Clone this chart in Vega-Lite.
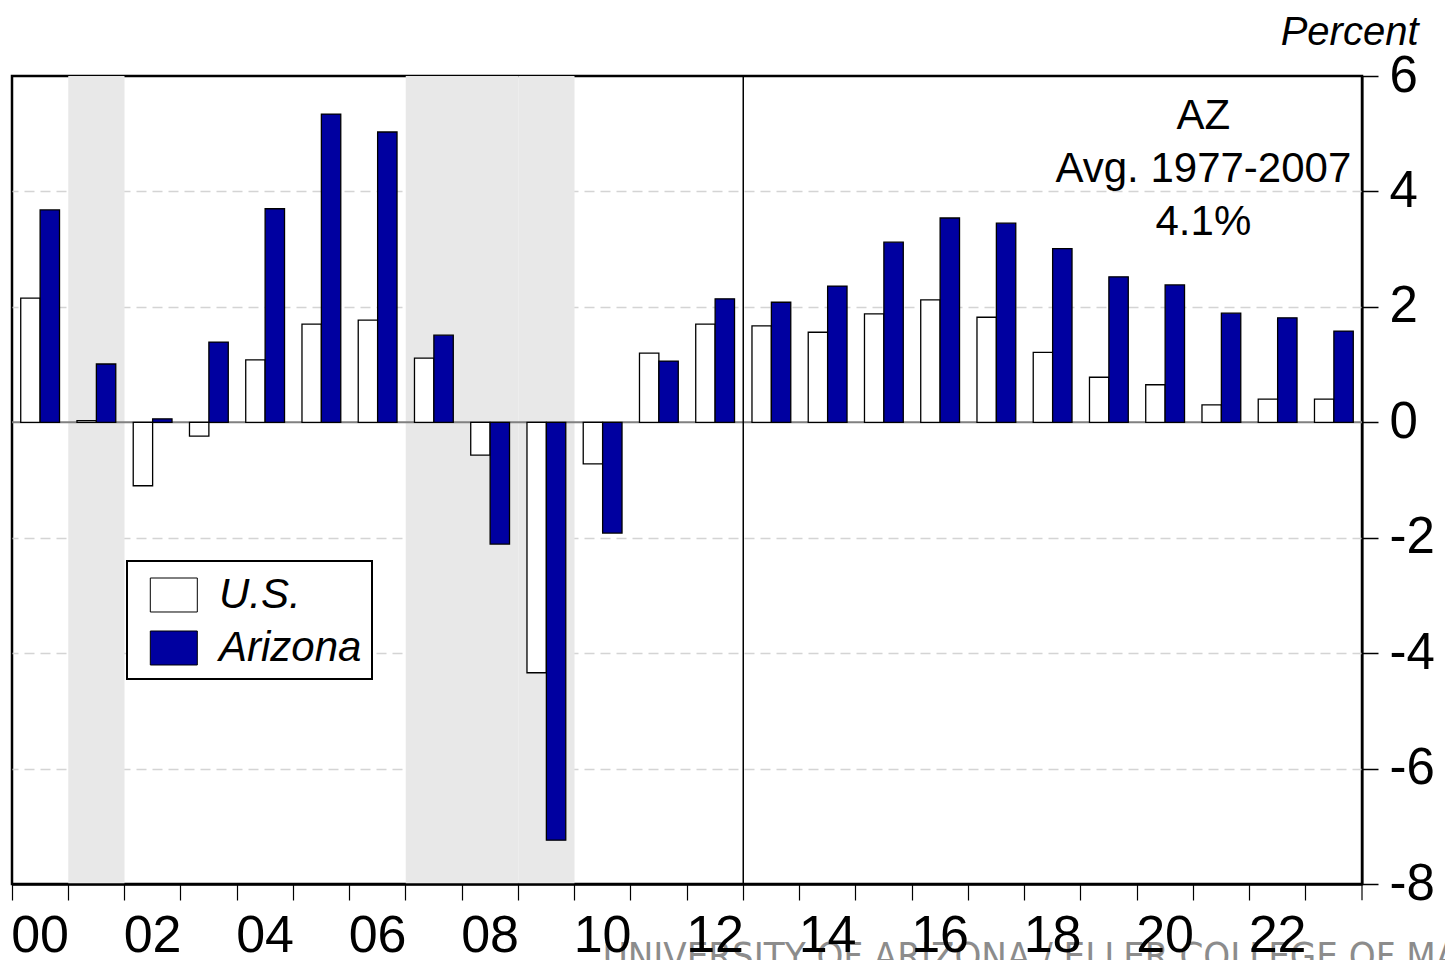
{
  "$schema": "https://vega.github.io/schema/vega-lite/v6.json",
  "width": 1350,
  "height": 808,
  "autosize": {"type": "none"},
  "padding": {"left": 12, "top": 76, "right": 83, "bottom": 76},
  "background": "white",
  "config": {
    "font": "Liberation Sans",
    "view": {"stroke": "black", "strokeWidth": 2.5}
  },
  "datasets": {
    "bars": [
      {"year": "2000", "series": "U.S.", "value": 2.15}, {"year": "2000", "series": "Arizona", "value": 3.68},
      {"year": "2001", "series": "U.S.", "value": 0.03}, {"year": "2001", "series": "Arizona", "value": 1.01},
      {"year": "2002", "series": "U.S.", "value": -1.10}, {"year": "2002", "series": "Arizona", "value": 0.06},
      {"year": "2003", "series": "U.S.", "value": -0.24}, {"year": "2003", "series": "Arizona", "value": 1.39},
      {"year": "2004", "series": "U.S.", "value": 1.08}, {"year": "2004", "series": "Arizona", "value": 3.70},
      {"year": "2005", "series": "U.S.", "value": 1.70}, {"year": "2005", "series": "Arizona", "value": 5.34},
      {"year": "2006", "series": "U.S.", "value": 1.77}, {"year": "2006", "series": "Arizona", "value": 5.03},
      {"year": "2007", "series": "U.S.", "value": 1.11}, {"year": "2007", "series": "Arizona", "value": 1.51},
      {"year": "2008", "series": "U.S.", "value": -0.57}, {"year": "2008", "series": "Arizona", "value": -2.11},
      {"year": "2009", "series": "U.S.", "value": -4.34}, {"year": "2009", "series": "Arizona", "value": -7.24},
      {"year": "2010", "series": "U.S.", "value": -0.72}, {"year": "2010", "series": "Arizona", "value": -1.92},
      {"year": "2011", "series": "U.S.", "value": 1.20}, {"year": "2011", "series": "Arizona", "value": 1.06},
      {"year": "2012", "series": "U.S.", "value": 1.70}, {"year": "2012", "series": "Arizona", "value": 2.14},
      {"year": "2013", "series": "U.S.", "value": 1.67}, {"year": "2013", "series": "Arizona", "value": 2.08},
      {"year": "2014", "series": "U.S.", "value": 1.56}, {"year": "2014", "series": "Arizona", "value": 2.36},
      {"year": "2015", "series": "U.S.", "value": 1.88}, {"year": "2015", "series": "Arizona", "value": 3.12},
      {"year": "2016", "series": "U.S.", "value": 2.12}, {"year": "2016", "series": "Arizona", "value": 3.54},
      {"year": "2017", "series": "U.S.", "value": 1.82}, {"year": "2017", "series": "Arizona", "value": 3.45},
      {"year": "2018", "series": "U.S.", "value": 1.21}, {"year": "2018", "series": "Arizona", "value": 3.01},
      {"year": "2019", "series": "U.S.", "value": 0.78}, {"year": "2019", "series": "Arizona", "value": 2.52},
      {"year": "2020", "series": "U.S.", "value": 0.65}, {"year": "2020", "series": "Arizona", "value": 2.38},
      {"year": "2021", "series": "U.S.", "value": 0.30}, {"year": "2021", "series": "Arizona", "value": 1.89},
      {"year": "2022", "series": "U.S.", "value": 0.40}, {"year": "2022", "series": "Arizona", "value": 1.81},
      {"year": "2023", "series": "U.S.", "value": 0.40}, {"year": "2023", "series": "Arizona", "value": 1.58}
    ],
    "recessions": [{"year": "2001"}, {"year": "2007"}, {"year": "2008"}, {"year": "2009"}],
    "note": [{"year": "2021", "value": 5.09, "label": "AZ\nAvg. 1977-2007\n4.1%"}],
    "credit": [{"year": "2010", "value": -9.47, "label": "UNIVERSITY OF ARIZONA / ELLER COLLEGE OF MANAGEMENT"}]
  },
  "layer": [
    {
      "data": {"name": "recessions"},
      "mark": {"type": "rect", "color": "#e8e8e8"},
      "encoding": {
        "x": {
          "field": "year", "type": "ordinal",
          "scale": {"domain": ["2000","2001","2002","2003","2004","2005","2006","2007","2008","2009","2010","2011","2012","2013","2014","2015","2016","2017","2018","2019","2020","2021","2022","2023"], "paddingInner": 0, "paddingOuter": 0},
          "axis": {
            "orient": "bottom", "title": null, "bandPosition": 0,
            "labelExpr": "parseInt(datum.value) % 2 == 0 ? substring(datum.value, 2, 4) : ''",
            "labelAngle": 0, "labelAlign": "center", "labelFontSize": 52, "labelColor": "black",
            "labelPadding": 10, "labelOverlap": false,
            "tickSize": 16, "tickColor": "black", "tickWidth": 1.2,
            "domainColor": "black", "domainWidth": 2.5, "grid": false
          }
        },
        "y": {"datum": 6, "type": "quantitative"},
        "y2": {"datum": -8}
      }
    },
    {
      "data": {"values": [{"value": 0}]},
      "mark": {"type": "rule", "color": "#808080", "strokeWidth": 2},
      "encoding": {"y": {"field": "value", "type": "quantitative"}}
    },
    {
      "data": {"name": "bars"},
      "mark": {"type": "bar", "stroke": "black", "strokeWidth": 1.3},
      "encoding": {
        "x": {"field": "year", "type": "ordinal"},
        "xOffset": {"field": "series", "type": "nominal", "scale": {"domain": ["U.S.", "Arizona"], "paddingInner": 0, "paddingOuter": 0.45}},
        "y": {
          "field": "value", "type": "quantitative",
          "scale": {"domain": [-8, 6], "nice": false, "zero": false},
          "axis": {
            "orient": "right", "values": [-8, -6, -4, -2, 0, 2, 4, 6],
            "labelExpr": "'' + datum.value",
            "labelFontSize": 51, "labelColor": "black", "labelPadding": 11,
            "tickSize": 16, "tickColor": "black", "tickWidth": 1.5,
            "domainColor": "black", "domainWidth": 2,
            "grid": true, "gridColor": "#d4d4d4", "gridDash": [10, 6], "gridWidth": 1.5,
            "gridOpacity": {"condition": {"test": "datum.value == 6 || datum.value == -8 || datum.value == 0", "value": 0}, "value": 1},
            "title": "Percent", "titleAngle": 0, "titleAlign": "right", "titleBaseline": "alphabetic",
            "titleX": 56, "titleY": -32, "titleFontSize": 40, "titleFontStyle": "italic",
            "titleFontWeight": "normal", "titleColor": "black"
          }
        },
        "fill": {
          "field": "series", "type": "nominal",
          "scale": {"domain": ["U.S.", "Arizona"], "range": ["#ffffff", "#0000a0"]},
          "legend": {
            "orient": "none", "legendX": 115, "legendY": 485, "title": null,
            "strokeColor": "black", "fillColor": "white", "padding": 10,
            "symbolType": "M-0.455,-0.723H1.545V0.723H-0.455Z", "symbolSize": 2209,
            "symbolStrokeColor": "black", "symbolStrokeWidth": 1,
            "labelFontSize": 42, "labelFontStyle": "italic", "labelColor": "black",
            "labelOffset": 34, "rowPadding": 8, "labelLimit": 300,
            "encode": {"legend": {"update": {"strokeWidth": {"value": 2}}}}
          }
        }
      }
    },
    {
      "data": {"values": [{"year": "2013"}]},
      "mark": {"type": "rule", "color": "black", "strokeWidth": 1.5},
      "encoding": {"x": {"field": "year", "type": "ordinal", "bandPosition": 0}}
    },
    {
      "data": {"values": [{"year": "2023", "lo": -8, "hi": -8.28}]},
      "mark": {"type": "rule", "color": "black", "strokeWidth": 1.2, "clip": false},
      "encoding": {
        "x": {"field": "year", "type": "ordinal", "bandPosition": 1},
        "y": {"field": "lo", "type": "quantitative"},
        "y2": {"field": "hi"}
      }
    },
    {
      "data": {"name": "note"},
      "mark": {"type": "text", "lineBreak": "\n", "fontSize": 42, "lineHeight": 53, "align": "center", "baseline": "alphabetic", "dx": -18, "color": "black"},
      "encoding": {
        "x": {"field": "year", "type": "ordinal"},
        "y": {"field": "value", "type": "quantitative"},
        "text": {"field": "label"}
      }
    },
    {
      "data": {"name": "credit"},
      "mark": {"type": "text", "font": "Liberation Sans Narrow, DejaVu Sans Condensed, sans-serif", "fontSize": 38, "align": "left", "baseline": "alphabetic", "color": "#8c8c8c", "clip": false},
      "encoding": {
        "x": {"field": "year", "type": "ordinal"},
        "y": {"field": "value", "type": "quantitative"},
        "text": {"field": "label"}
      }
    }
  ]
}
